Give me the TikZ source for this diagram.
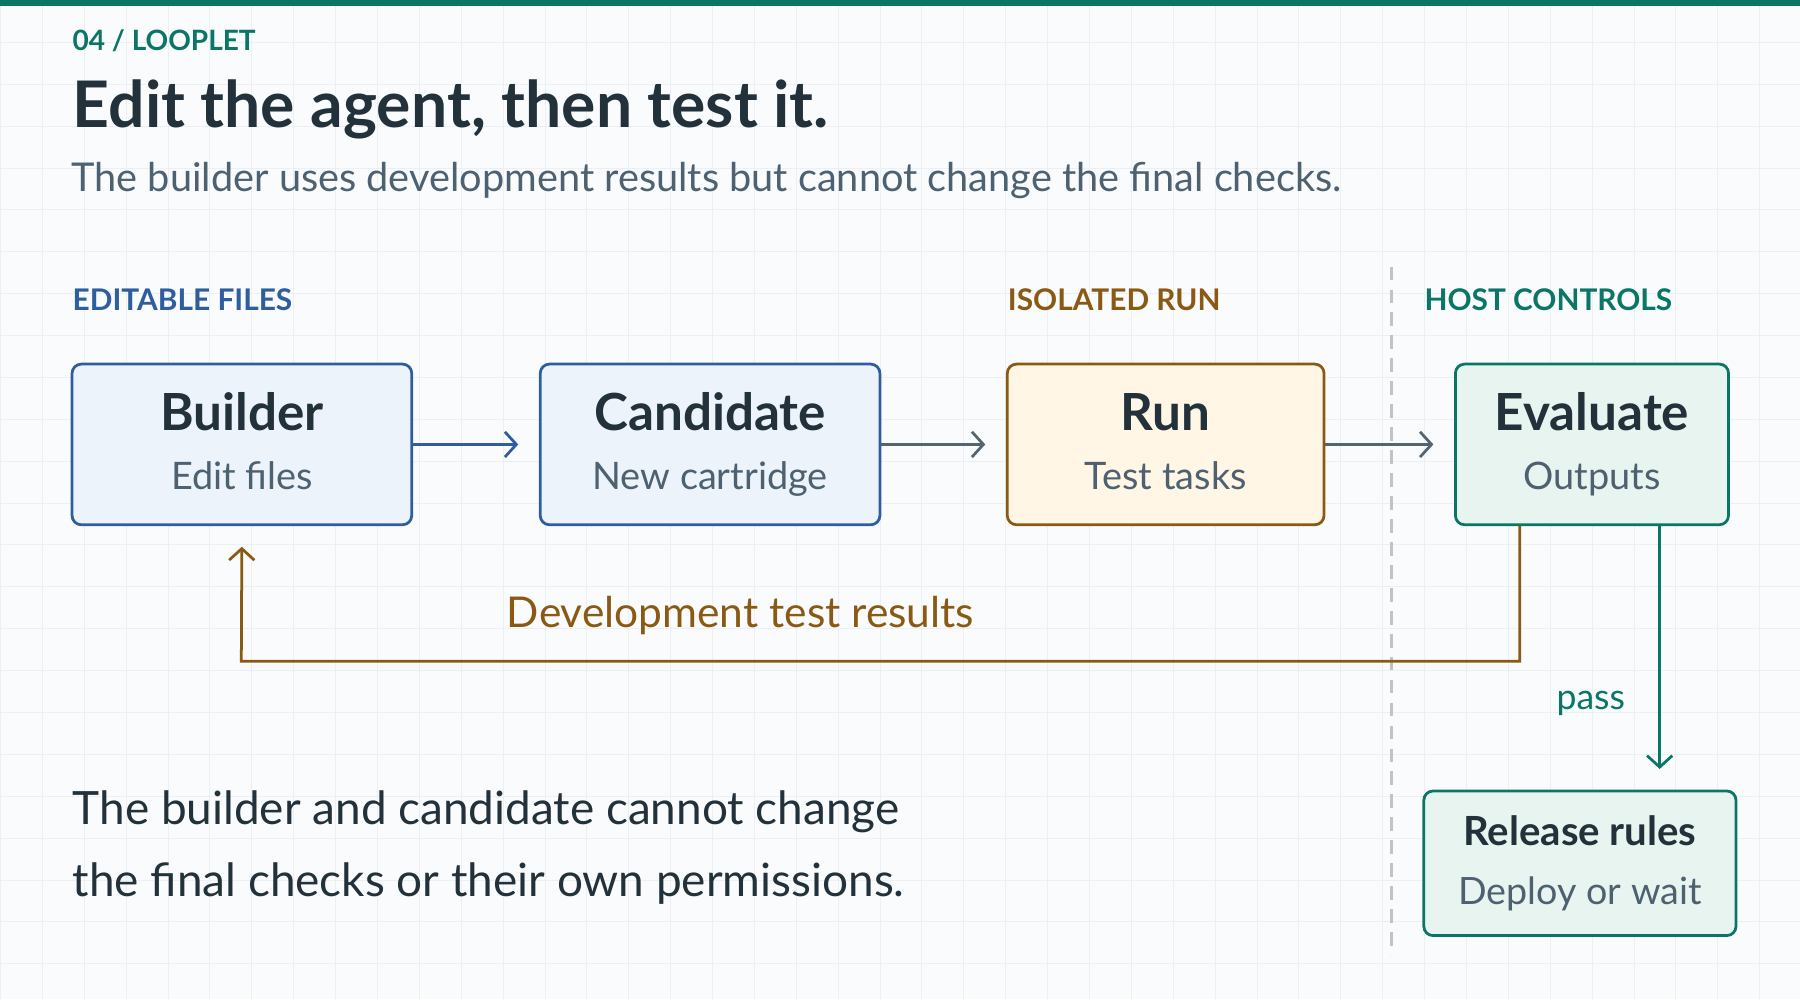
\documentclass[tikz,border=0pt]{standalone}
\usepackage{fontspec}
\setmainfont{Lato}
\usetikzlibrary{arrows.meta,positioning}
\definecolor{ink}{HTML}{22313A}
\definecolor{muted}{HTML}{4D6170}
\definecolor{teal}{HTML}{0B7665}
\definecolor{bluel}{HTML}{2E5E9E}
\definecolor{bluef}{HTML}{EDF3FB}
\definecolor{ochre}{HTML}{8A5A14}
\definecolor{ochref}{HTML}{FFF6E5}
\definecolor{tealf}{HTML}{E8F4EF}
\definecolor{slate}{HTML}{556570}
\definecolor{paper}{HTML}{F9FBFD}
\definecolor{gridc}{HTML}{EDF0F3}

\tikzset{
  stage/.style={draw, rounded corners=4pt, line width=1.2pt, minimum width=#1, minimum height=70pt, align=center,
    font=\fontsize{16.5}{26}\selectfont, text=muted},
  blue stage/.style={stage=#1, draw=bluel, fill=bluef},
  ochre stage/.style={stage=#1, draw=ochre, fill=ochref},
  teal stage/.style={stage=#1, draw=teal, fill=tealf},
  heading/.style={font=\fontsize{13}{15}\selectfont\bfseries, anchor=west},
  flow/.style={-{Straight Barb[length=5pt,width=11pt]}, line width=1.2pt, draw=slate, shorten >=9pt},
}
\newcommand{\stagetext}[2]{{\fontsize{22.3}{26}\selectfont\bfseries\color{ink}\vphantom{Cdg}#1}\\\vphantom{Cdg}#2}

\begin{document}
\begin{tikzpicture}[x=0.5pt, y=-0.5pt]
% background
\fill[paper] (0,0) rectangle (1568,870);
\foreach \g in {0,36.5,...,1568} \draw[gridc, line width=0.3pt] (\g,0) -- (\g,870);
\foreach \g in {0,36.5,...,870} \draw[gridc, line width=0.3pt] (0,\g) -- (1568,\g);
\fill[teal] (0,0) rectangle (1568,5);
\useasboundingbox (0,0) rectangle (1568,870);

% titles
\node[anchor=west, text=teal, font=\fontsize{12.2}{14}\selectfont\bfseries] (kicker) at (56,35) {04 / LOOPLET};
\node[anchor=west, text=ink, font=\fontsize{28}{32}\selectfont\bfseries] (title) at (56,95) {Edit the agent, then test it.};
\node[anchor=west, text=muted, font=\fontsize{17.3}{20}\selectfont] (sub) at (55,157) {The builder uses development results but cannot change the final checks.};

% section labels
\node[heading, text=bluel] (lab1) at (56,261) {EDITABLE FILES};
\node[heading, text=ochre] (lab2) at (871,261) {ISOLATED RUN};
\node[heading, text=teal] (lab3) at (1234,261) {HOST CONTROLS};
\coordinate (sepT) at (1212,232);
\coordinate (sepB) at (1212,832);
\draw[gridc!60!gray, line width=1.2pt, dash pattern=on 6pt off 4pt] (sepT) -- (sepB);

% stages
\node[blue stage=148pt] (builder) at (210.5,387) {\stagetext{Builder}{Edit files}};
\node[blue stage=148pt] (cand) at (618.5,387) {\stagetext{Candidate}{New cartridge}};
\node[ochre stage=138pt] (run) at (1015.5,387) {\stagetext{Run}{Test tasks}};
\node[teal stage=119pt] (eval) at (1387,387) {\stagetext{Evaluate}{Outputs}};
\node[teal stage=136pt, minimum height=63pt, font=\fontsize{16.4}{25.5}\selectfont] (release) at (1376.5,752) {{\fontsize{17.5}{21}\selectfont\bfseries\color{ink}\vphantom{Rdg}Release rules}\\\vphantom{Rdg}Deploy or wait};

% flow
\draw[flow, draw=bluel] (builder) -- (cand);
\draw[flow] (cand) -- (run);
\draw[flow] (run) -- (eval);

% feedback
\coordinate (fbA) at (1324,576);
\coordinate (fbB) at (210,576);
\coordinate (passX) at (1446,0);
\draw[flow, draw=ochre] (eval.south -| fbA) -- (fbA) -- (fbB) -- (builder.south);
\node[text=ochre, font=\fontsize{18.5}{22}\selectfont] (fbl) at (645,536) {Development test results};

% release
\draw[flow, draw=teal] (eval.south -| passX) -- (release.north -| passX);
\node[text=teal, font=\fontsize{15.5}{19}\selectfont] (pass) at (1386,613) {pass};

\node[anchor=west, text=ink, align=left, font=\fontsize{20}{31.5}\selectfont] (note) at (56,738) {The builder and candidate cannot change\\the final checks or their own permissions.};
\end{tikzpicture}
\end{document}
